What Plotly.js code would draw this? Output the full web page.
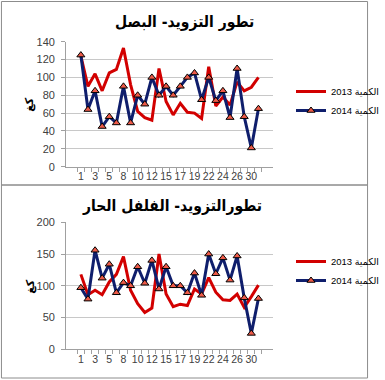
<!DOCTYPE html>
<html>
<head>
<meta charset="utf-8">
<script src="https://cdn.plot.ly/plotly-3.0.1.min.js"></script>
<style>html,body{margin:0;padding:0;background:#fff;}#chart{width:385px;height:380px;}</style>
</head>
<body>
<div id="chart"></div>
<script>
// Days of the month (categories)
const days = ["1","2","3","4","5","7","8","9","10","11","12","14","15","16","17","18","19","21","22","23","24","25","26","29","30","31"];

// Onion (البصل) supply
const onion2013 = [124,90,104,85,105,109,133,92,62,55,52,110,73,58,71,61,60,54,112,68,78,69,95,85,89,100];
const onion2014 = [125,64,85,45,56,49,90,49,80,70,100,80,90,80,90,100,105,75,100,74,85,55,110,56,21,65];

// Hot pepper (الفلفل الحار) supply
const pepper2013 = [118,86,93,86,106,118,146,93,72,58,65,150,87,67,71,69,95,87,113,90,78,77,87,66,83,101];
const pepper2014 = [97,79,156,112,134,89,105,100,130,104,140,95,130,100,100,89,120,85,150,119,144,109,147,81,25,80];

// Texts
const title1 = "تطور التزويد- البصل";
const title2 = "تطورالتزويد- الفلفل الحار";
const name2013 = "الكمية 2013";
const name2014 = "الكمية 2014";
const yTitle = "كغ";

const W = 385, H = 380;
const px = v => v / W;
const py = v => 1 - v / H;

const red = "#D20000";
const navy = "#0F1E6C";
const markerStyle = {symbol: "triangle-up", size: 7, color: "#EE5A48", line: {color: "#000", width: 1}};
const tickTexts = days.map((d, i) => (i % 2 === 0 ? d : ""));
const font = {family: "Liberation Sans, Arial, DejaVu Sans, sans-serif", color: "#404040", size: 11};
const titleFont = {size: 15.5, color: "#000", family: "DejaVu Sans Condensed, DejaVu Sans, sans-serif", weight: "bold"};
const yTitleFont = {size: 11, color: "#000", family: "DejaVu Sans, sans-serif", weight: "bold"};

const traces = [
  {x: days, y: onion2013, name: name2013, type: "scatter", mode: "lines",
   line: {color: red, width: 3}, xaxis: "x", yaxis: "y", legend: "legend"},
  {x: days, y: onion2014, name: name2014, type: "scatter", mode: "lines+markers",
   line: {color: navy, width: 3}, marker: markerStyle, xaxis: "x", yaxis: "y", legend: "legend"},
  {x: days, y: pepper2013, name: name2013, type: "scatter", mode: "lines",
   line: {color: red, width: 3}, xaxis: "x2", yaxis: "y2", legend: "legend2"},
  {x: days, y: pepper2014, name: name2014, type: "scatter", mode: "lines+markers",
   line: {color: navy, width: 3}, marker: markerStyle, xaxis: "x2", yaxis: "y2", legend: "legend2"}
];

function xAxis(anchor, dom) {
  return {
    type: "category", anchor: anchor, domain: dom,
    tickmode: "array", tickvals: days, ticktext: tickTexts,
    tickson: "boundaries", ticks: "outside", ticklen: 4, tickcolor: "#A0A0A0",
    showline: true, linecolor: "#A0A0A0", linewidth: 1, showgrid: false,
    tickfont: {size: 10.5, color: "#404040"}, tickangle: 0, fixedrange: true
  };
}
function yAxis(anchor, dom, range, dtick) {
  return {
    anchor: anchor, domain: dom, range: range, dtick: dtick, tick0: 0,
    showline: true, linecolor: "#A0A0A0", linewidth: 1,
    ticks: "outside", ticklen: 4, tickcolor: "#A0A0A0", ticklabelstandoff: 4,
    showgrid: true, gridcolor: "#C8C8C8", gridwidth: 1, zeroline: false,
    tickfont: {size: 11, color: "#404040"},
    fixedrange: true
  };
}

const xDom = [px(69), px(285)];

const layout = {
  width: W, height: H,
  margin: {l: 0, r: 0, t: 0, b: 0},
  paper_bgcolor: "#fff", plot_bgcolor: "rgba(0,0,0,0)",
  font: font,
  xaxis: xAxis("y", xDom),
  yaxis: yAxis("x", [py(166.7), py(41.7)], [0, 140], 20),
  xaxis2: xAxis("y2", xDom),
  yaxis2: yAxis("x2", [py(349.3), py(222.3)], [0, 200], 50),
  legend: {x: px(304), y: py(101), xanchor: "left", yanchor: "middle",
           font: {size: 9.5, color: "#000"}, bgcolor: "rgba(0,0,0,0)", tracegroupgap: 0},
  legend2: {x: px(304), y: py(271), xanchor: "left", yanchor: "middle",
            font: {size: 9.5, color: "#000"}, bgcolor: "rgba(0,0,0,0)", tracegroupgap: 0},
  showlegend: true,
  annotations: [
    {text: title1, xref: "paper", yref: "paper", x: px(193), y: py(22), xanchor: "center", yanchor: "middle",
     showarrow: false, font: titleFont},
    {text: title2, xref: "paper", yref: "paper", x: px(179), y: py(206), xanchor: "center", yanchor: "middle",
     showarrow: false, font: titleFont},
    {text: yTitle, xref: "paper", yref: "paper", x: px(31), y: py(104), xanchor: "center", yanchor: "middle",
     textangle: -90, showarrow: false, font: yTitleFont},
    {text: yTitle, xref: "paper", yref: "paper", x: px(31), y: py(286), xanchor: "center", yanchor: "middle",
     textangle: -90, showarrow: false, font: yTitleFont}
  ],
  shapes: [
    {type: "rect", xref: "paper", yref: "paper", x0: px(1.5), x1: px(383.5), y0: py(1.5), y1: py(185),
     line: {color: "#8C8C8C", width: 1}},
    {type: "rect", xref: "paper", yref: "paper", x0: px(1.5), x1: px(383.5), y0: py(185), y1: py(378),
     line: {color: "#8C8C8C", width: 1}}
  ]
};

Plotly.newPlot("chart", traces, layout, {displayModeBar: false, staticPlot: true});
</script>
</body>
</html>
